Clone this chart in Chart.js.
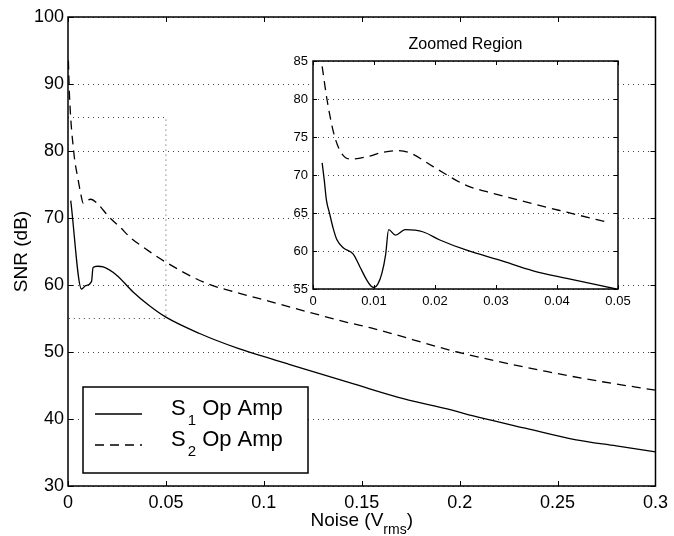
<!DOCTYPE html>
<html>
<head>
<meta charset="utf-8">
<script src="https://cdn.jsdelivr.net/npm/chart.js@4.4.1/dist/chart.umd.min.js"></script>
<style>
  html, body { margin: 0; padding: 0; background: #fff; }
  #wrap { position: relative; width: 674px; height: 536px; }
  #wrap canvas { position: absolute; left: 0; top: 0; }
</style>
</head>
<body>
<div id="wrap">
  <canvas id="mainChart" width="674" height="536"></canvas>
  <canvas id="zoomChart" width="674" height="536"></canvas>
</div>
<script>
// main plot
const noiseS1 = [0.0014, 0.0069, 0.0090, 0.0120, 0.0128, 0.0150, 0.0180, 0.0247, 0.0331, 0.0416, 0.0500,
  0.0669, 0.0872, 0.1058, 0.1125, 0.1463, 0.1717, 0.1936, 0.2105, 0.2340, 0.2595, 0.2800, 0.3000];
const snrS1 = [72.6, 59.4, 59.9, 60.5, 62.6, 62.8, 62.7, 61.5, 59.0, 56.9, 55.2,
  52.8, 50.5, 48.8, 48.2, 45.2, 43.0, 41.5, 40.2, 38.6, 36.9, 36.0, 35.1];

const noiseS2 = [0.0002, 0.0007, 0.0030, 0.0052, 0.0065, 0.0078, 0.0115, 0.0149, 0.0208, 0.0267, 0.0318,
  0.0382, 0.0500, 0.0703, 0.0872, 0.1024, 0.1429, 0.1547, 0.1987, 0.2443, 0.2700, 0.3000];
const snrS2 = [93.5, 88.7, 79.7, 75.7, 73.6, 72.2, 72.8, 72.2, 70.2, 68.6, 67.1,
  65.7, 63.4, 60.3, 58.8, 57.6, 54.4, 53.6, 50.0, 47.1, 45.7, 44.3];

// dotted box marking the zoomed region
const zoomBoxNoise = [0, 0.05, 0.05, 0];
const zoomBoxSnr = [85, 85, 55, 55];

// inset ("Zoomed Region")
const zoomNoiseS1 = [0.0015, 0.00185, 0.0022, 0.0027, 0.0033, 0.0039, 0.0050, 0.0066, 0.0077, 0.0088, 0.0095,
  0.0100, 0.0106, 0.0113, 0.0119, 0.0124, 0.0135, 0.0151, 0.0181, 0.0208, 0.0252, 0.0306, 0.0361, 0.0416, 0.0497];
const zoomSnrS1 = [71.6, 69.3, 66.7, 65.0, 63.0, 61.5, 60.4, 59.6, 57.9, 56.2, 55.4,
  55.2, 55.6, 57.1, 59.5, 62.8, 62.1, 62.8, 62.5, 61.45, 60.1, 58.8, 57.4, 56.4, 55.0];

const zoomNoiseS2 = [0.0015, 0.0023, 0.0034, 0.0045, 0.0061, 0.0088, 0.0115, 0.0138, 0.0159, 0.0197, 0.0252,
  0.0285, 0.0328, 0.0361, 0.0416, 0.0487];
const zoomSnrS2 = [84.3, 79.9, 75.5, 73.1, 72.1, 72.4, 73.0, 73.2, 72.9, 71.1, 68.6,
  67.8, 66.9, 66.2, 65.1, 63.7];

// ticks and text
const mainXTicks = [0, 0.05, 0.1, 0.15, 0.2, 0.25, 0.3];
const mainXLabels = ['0', '0.05', '0.1', '0.15', '0.2', '0.25', '0.3'];
const mainYTicks = [30, 40, 50, 60, 70, 80, 90, 100];
const zoomXTicks = [0, 0.01, 0.02, 0.03, 0.04, 0.05];
const zoomXLabels = ['0', '0.01', '0.02', '0.03', '0.04', '0.05'];
const zoomYTicks = [55, 60, 65, 70, 75, 80, 85];

const seriesNames = ['S1 Op Amp', 'S2 Op Amp'];
const legendBase = ['S', 'S'];
const legendSub = ['1', '2'];
const legendRest = ['Op Amp', 'Op Amp'];
const yTitle = 'SNR (dB)';
const xTitle = ['Noise (V', 'rms', ')'];
const zoomTitle = 'Zoomed Region';

const FONT = '"Liberation Sans", Arial, Helvetica, sans-serif';
const DASH = [9, 6];
const DOTS = [1, 4];
const DOT_COLOR = '#444';

const toPoints = (xs, ys) => xs.map((x, i) => ({ x: x, y: ys[i] }));
const fixTicks = list => scale => { scale.ticks = list.map(v => ({ value: v })); };

// white page / white inset axes
const background = {
  id: 'background',
  beforeDraw(chart, args, opts) {
    const { ctx, chartArea: a } = chart;
    ctx.save();
    ctx.fillStyle = '#fff';
    if (opts.areaOnly) ctx.fillRect(a.left, a.top, a.width, a.height);
    else ctx.fillRect(0, 0, chart.width, chart.height);
    ctx.restore();
  }
};

// MATLAB style box with inward ticks on all four sides
const boxTicks = {
  id: 'boxTicks',
  afterDatasetsDraw(chart, args, opts) {
    const { ctx, chartArea: a, scales } = chart;
    const len = opts.length;
    ctx.save();
    ctx.strokeStyle = '#000';
    ctx.lineWidth = 1;
    ctx.beginPath();
    scales.x.ticks.forEach(t => {
      const p = Math.round(scales.x.getPixelForValue(t.value)) + 0.5;
      ctx.moveTo(p, a.bottom); ctx.lineTo(p, a.bottom - len);
      ctx.moveTo(p, a.top); ctx.lineTo(p, a.top + len);
    });
    scales.y.ticks.forEach(t => {
      const p = Math.round(scales.y.getPixelForValue(t.value)) + 0.5;
      ctx.moveTo(a.left, p); ctx.lineTo(a.left + len, p);
      ctx.moveTo(a.right, p); ctx.lineTo(a.right - len, p);
    });
    ctx.stroke();
    ctx.lineWidth = opts.frameWidth;
    ctx.strokeRect(a.left, a.top, a.width, a.height);
    ctx.restore();
  }
};

// x title with subscript, legend box with subscripts
const mainText = {
  id: 'mainText',
  afterDraw(chart) {
    const { ctx, chartArea: a } = chart;
    ctx.save();
    ctx.fillStyle = '#000';
    ctx.textBaseline = 'alphabetic';

    // x axis title
    const big = '19px ' + FONT, small = '14px ' + FONT;
    ctx.font = big; const w0 = ctx.measureText(xTitle[0]).width; const w2 = ctx.measureText(xTitle[2]).width;
    ctx.font = small; const w1 = ctx.measureText(xTitle[1]).width;
    let tx = (a.left + a.right) / 2 - (w0 + w1 + w2) / 2;
    ctx.font = big; ctx.fillText(xTitle[0], tx, 526);
    ctx.font = small; ctx.fillText(xTitle[1], tx + w0, 534);
    ctx.font = big; ctx.fillText(xTitle[2], tx + w0 + w1, 526);

    // legend
    const box = { left: 83, top: 387, right: 308, bottom: 473 };
    ctx.fillStyle = '#fff';
    ctx.fillRect(box.left, box.top, box.right - box.left, box.bottom - box.top);
    ctx.strokeStyle = '#000';
    ctx.lineWidth = 1.5;
    ctx.strokeRect(box.left, box.top, box.right - box.left, box.bottom - box.top);
    const rows = [415, 446];
    chart.data.datasets.slice(0, 2).forEach((ds, i) => {
      const y = rows[i];
      ctx.strokeStyle = ds.borderColor;
      ctx.lineWidth = ds.borderWidth;
      ctx.setLineDash(ds.borderDash || []);
      ctx.beginPath();
      ctx.moveTo(95, y - 1);
      ctx.lineTo(142, y - 1);
      ctx.stroke();
      ctx.setLineDash([]);
      ctx.fillStyle = '#000';
      ctx.font = '22px ' + FONT;
      let x = 171;
      ctx.fillText(legendBase[i], x, y);
      x += ctx.measureText(legendBase[i]).width + 2;
      ctx.font = '15px ' + FONT;
      ctx.fillText(legendSub[i], x, y + 10);
      x += ctx.measureText(legendSub[i]).width;
      ctx.font = '22px ' + FONT;
      ctx.fillText(' ' + legendRest[i], x, y);
    });
    ctx.restore();
  }
};

const zoomText = {
  id: 'zoomText',
  afterDraw(chart) {
    const { ctx, chartArea: a } = chart;
    ctx.save();
    ctx.fillStyle = '#000';
    ctx.font = '16px ' + FONT;
    ctx.textAlign = 'center';
    ctx.textBaseline = 'alphabetic';
    ctx.fillText(zoomTitle, (a.left + a.right) / 2, 49);
    ctx.restore();
  }
};

const lineStyle = (label, pts, dashed) => ({
  label: label,
  data: pts,
  borderColor: '#000',
  borderWidth: 1.3,
  borderDash: dashed ? DASH : [],
  pointRadius: 0,
  fill: false,
  cubicInterpolationMode: 'monotone'
});

new Chart(document.getElementById('mainChart'), {
  type: 'line',
  data: {
    datasets: [
      lineStyle(seriesNames[0], toPoints(noiseS1, snrS1), false),
      lineStyle(seriesNames[1], toPoints(noiseS2, snrS2), true),
      {
        label: 'zoom box',
        data: toPoints(zoomBoxNoise, zoomBoxSnr),
        borderColor: DOT_COLOR,
        borderWidth: 1,
        borderDash: DOTS,
        pointRadius: 0,
        tension: 0,
        fill: false
      }
    ]
  },
  options: {
    responsive: false,
    animation: false,
    events: [],
    layout: { padding: { left: 0, top: 17, right: 14, bottom: 0 } },
    scales: {
      x: {
        type: 'linear',
        min: 0,
        max: 0.3,
        afterFit: s => { s.height = 50; },
        afterBuildTicks: fixTicks(mainXTicks),
        grid: { display: false, drawTicks: false },
        border: { display: false },
        ticks: {
          color: '#000',
          font: { family: FONT, size: 18 },
          padding: 6,
          maxRotation: 0,
          autoSkip: false,
          callback: (v, i) => mainXLabels[i]
        }
      },
      y: {
        min: 30,
        max: 100,
        afterFit: s => { s.width = 68; },
        afterBuildTicks: fixTicks(mainYTicks),
        grid: { color: DOT_COLOR, lineWidth: 1, drawTicks: false },
        border: { display: false, dash: DOTS },
        ticks: {
          color: '#000',
          font: { family: FONT, size: 18 },
          padding: 4,
          autoSkip: false
        },
        title: {
          display: true,
          text: yTitle,
          color: '#000',
          font: { family: FONT, size: 19 },
          padding: { top: 10, bottom: 0 }
        }
      }
    },
    plugins: {
      legend: { display: false },
      tooltip: { enabled: false },
      background: { areaOnly: false },
      boxTicks: { length: 5, frameWidth: 1.5 }
    }
  },
  plugins: [background, boxTicks, mainText]
});

new Chart(document.getElementById('zoomChart'), {
  type: 'line',
  data: {
    datasets: [
      lineStyle(seriesNames[0], toPoints(zoomNoiseS1, zoomSnrS1), false),
      lineStyle(seriesNames[1], toPoints(zoomNoiseS2, zoomSnrS2), true)
    ]
  },
  options: {
    responsive: false,
    animation: false,
    events: [],
    layout: { padding: { left: 273, top: 61, right: 56, bottom: 223 } },
    scales: {
      x: {
        type: 'linear',
        min: 0,
        max: 0.05,
        afterFit: s => { s.height = 24; },
        afterBuildTicks: fixTicks(zoomXTicks),
        grid: { display: false, drawTicks: false },
        border: { display: false },
        ticks: {
          color: '#000',
          font: { family: FONT, size: 13 },
          padding: 5,
          maxRotation: 0,
          autoSkip: false,
          callback: (v, i) => zoomXLabels[i]
        }
      },
      y: {
        min: 55,
        max: 85,
        afterFit: s => { s.width = 40; },
        afterBuildTicks: fixTicks(zoomYTicks),
        grid: { color: DOT_COLOR, lineWidth: 1, drawTicks: false },
        border: { display: false, dash: DOTS },
        ticks: {
          color: '#000',
          font: { family: FONT, size: 13 },
          padding: 5,
          autoSkip: false
        }
      }
    },
    plugins: {
      legend: { display: false },
      tooltip: { enabled: false },
      background: { areaOnly: true },
      boxTicks: { length: 4, frameWidth: 1.5 }
    }
  },
  plugins: [background, boxTicks, zoomText]
});
</script>
</body>
</html>
